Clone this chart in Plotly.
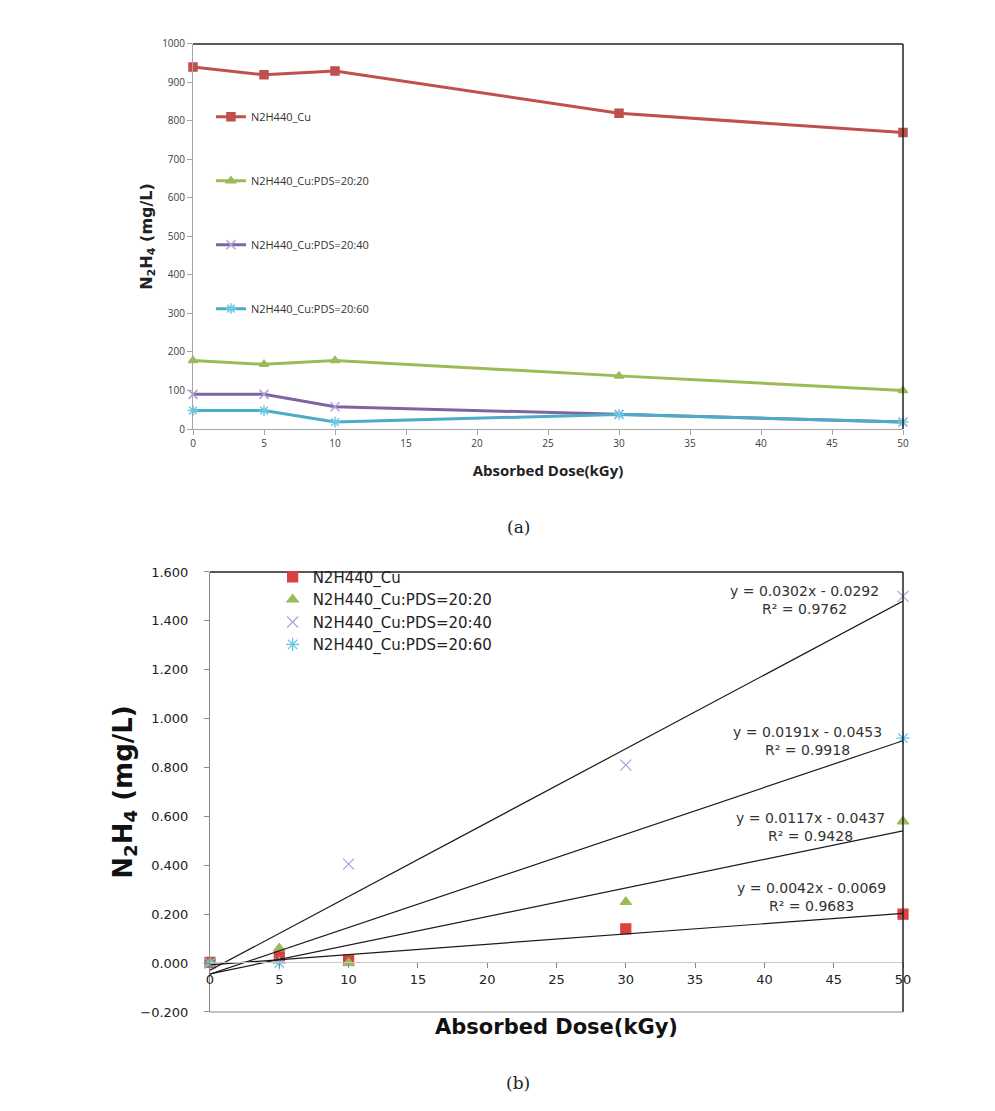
import plotly.graph_objects as go

# ---------------- data ----------------
dose = [0, 5, 10, 30, 50]
names = ["N2H440_Cu", "N2H440_Cu:PDS=20:20", "N2H440_Cu:PDS=20:40", "N2H440_Cu:PDS=20:60"]

# (a) N2H4 concentration
a_cu = [940, 920, 930, 820, 770]
a_2020 = [178, 168, 178, 138, 100]
a_2040 = [90, 90, 58, 38, 18]
a_2060 = [48, 48, 18, 38, 18]

# (b) N2H4 values (None = no point shown)
b_cu = [0.003, 0.030, 0.012, 0.140, 0.200]
b_2020 = [0.000, 0.060, 0.000, 0.250, 0.580]
b_2040 = [0.000, None, 0.405, 0.810, 1.500]
b_2060 = [0.000, 0.000, None, None, 0.920]

# linear trendlines (slope, intercept, R2)
slopes = [0.0042, 0.0117, 0.0302, 0.0191]
intercepts = [-0.0069, -0.0437, -0.0292, -0.0453]
r2 = [0.9683, 0.9428, 0.9762, 0.9918]
trend_x = [0, 50]
eq_pos_x = [43.4, 43.3, 42.9, 43.1]
eq_pos_y = [0.270, 0.557, 1.484, 0.910]

# ---------------- styles ----------------
line_cols = ["#C0504D", "#9BBB59", "#8064A2", "#4BACC6"]
mk_cols_a = ["#C0504D", "#9BBB59", "#A9A2D8", "#6CC8E6"]
mk_cols_b = ["#D9403F", "#9BBB59", "#A8A4E0", "#62C6EC"]
symbols = ["square", "triangle-up", "x-thin", "asterisk"]

fig = go.Figure()

a_series = [a_cu, a_2020, a_2040, a_2060]
for i, ys in enumerate(a_series):
    fig.add_trace(go.Scatter(
        x=dose, y=ys, name=names[i], mode="lines+markers",
        line=dict(color=line_cols[i], width=3),
        marker=dict(symbol=symbols[i], size=8 if i < 2 else 9, color=mk_cols_a[i],
                    line=dict(color=mk_cols_a[i] if i >= 2 else line_cols[i], width=1.5)),
        xaxis="x", yaxis="y", legend="legend", legendgroup="a%d" % i, cliponaxis=False))

b_series = [b_cu, b_2020, b_2040, b_2060]
for i, ys in enumerate(b_series):
    fig.add_trace(go.Scatter(
        x=dose, y=ys, name=names[i], mode="markers",
        marker=dict(symbol=symbols[i], size=10 if i < 2 else 11, color=mk_cols_b[i],
                    line=dict(color=mk_cols_b[i], width=1.2)),
        xaxis="x2", yaxis="y2", legend="legend2", cliponaxis=False))

for i in range(4):
    ty = [slopes[i] * x + intercepts[i] for x in trend_x]
    fig.add_trace(go.Scatter(
        x=trend_x, y=ty, mode="lines", showlegend=False,
        line=dict(color="#1a1a1a", width=1.2), xaxis="x2", yaxis="y2", hoverinfo="skip"))
    fig.add_annotation(
        x=eq_pos_x[i], y=eq_pos_y[i], xref="x2", yref="y2",
        xanchor="center", yanchor="middle",
        text="y = %.4fx - %.4f<br>R² = %.4f" % (slopes[i], -intercepts[i], r2[i]),
        showarrow=False, align="center",
        font=dict(family="DejaVu Sans", size=14, color="#333333"))

tick_font_a = dict(family="Open Sans", size=10, color="#404040")
tick_font_b = dict(family="DejaVu Sans", size=13, color="#222222")

fig.update_layout(
    width=995, height=1111, margin=dict(l=0, r=0, t=0, b=0, autoexpand=False),
    paper_bgcolor="white", plot_bgcolor="white",
    showlegend=True,
    xaxis=dict(domain=[0.19397, 0.90754], anchor="y", range=[0, 50], dtick=5,
               automargin=False,
               showgrid=False, zeroline=False, showline=True, linecolor="#A6A6A6",
               ticks="outside", ticklen=5, tickcolor="#A6A6A6", tickfont=tick_font_a,
               title=dict(text="<b>Absorbed Dose(kGy)</b>", standoff=16,
                          font=dict(family="Open Sans", size=15, color="#222222"))),
    yaxis=dict(domain=[0.61386, 0.96040], anchor="x", range=[0, 1000], dtick=100,
               automargin=False,
               showgrid=False, zeroline=False, showline=True, linecolor="#A6A6A6",
               ticks="outside", ticklen=5, tickcolor="#A6A6A6", tickfont=tick_font_a,
               title=dict(text="<b>N<sub>2</sub>H<sub>4</sub> (mg/L)</b>", standoff=5,
                          font=dict(family="DejaVu Sans", size=16, color="#222222"))),
    xaxis2=dict(domain=[0.21106, 0.90754], anchor="free", position=0.13411,
                automargin=False,
                range=[0, 50], dtick=5, showgrid=False, zeroline=False,
                showline=True, linecolor="#C8C8C8",
                ticks="outside", ticklen=5, tickcolor="#888888", tickfont=tick_font_b,
                title=dict(text="<b>Absorbed Dose(kGy)</b>", standoff=33,
                           font=dict(family="DejaVu Sans", size=21, color="#111111"))),
    yaxis2=dict(domain=[0.08911, 0.48515], anchor="x2", range=[-0.2, 1.6], dtick=0.2,
                automargin=False,
                tickformat=".3f", showgrid=False, zeroline=False, showline=True,
                linecolor="#888888", ticks="outside", ticklen=5, tickcolor="#888888",
                tickfont=tick_font_b, ticklabelstandoff=13,
                title=dict(text="<b>N<sub>2</sub>H<sub>4</sub> (mg/L)</b>", standoff=0,
                           font=dict(family="DejaVu Sans", size=26, color="#111111"))),
    legend=dict(x=0.212, y=0.908, xanchor="left", yanchor="top",
                bgcolor="rgba(0,0,0,0)", tracegroupgap=45,
                font=dict(family="Open Sans", size=11, color="#333333")),
    legend2=dict(x=0.274, y=0.4953, xanchor="left", yanchor="top",
                 bgcolor="rgba(0,0,0,0)", tracegroupgap=0,
                 font=dict(family="DejaVu Sans", size=15, color="#222222")),
)

# borders: top/right in black, bottom border of (b) in gray
fig.add_shape(type="line", xref="x domain", yref="y domain", x0=0, x1=1, y0=1, y1=1,
              line=dict(color="#222222", width=1.5))
fig.add_shape(type="line", xref="x domain", yref="y domain", x0=1, x1=1, y0=0, y1=1,
              line=dict(color="#222222", width=1.5))
fig.add_shape(type="line", xref="x2 domain", yref="y2 domain", x0=0, x1=1, y0=1, y1=1,
              line=dict(color="#222222", width=1.5))
fig.add_shape(type="line", xref="x2 domain", yref="y2 domain", x0=1, x1=1, y0=0, y1=1,
              line=dict(color="#222222", width=1.5))
fig.add_shape(type="line", xref="x2 domain", yref="y2 domain", x0=0, x1=1, y0=0, y1=0,
              line=dict(color="#888888", width=1))

# captions
fig.add_annotation(x=518 / 995, y=1 - 527 / 1111, xref="paper", yref="paper", text="(a)",
                   xanchor="center", yanchor="middle",
                   showarrow=False, font=dict(family="DejaVu Serif", size=17, color="#222222"))
fig.add_annotation(x=518 / 995, y=1 - 1083 / 1111, xref="paper", yref="paper", text="(b)",
                   xanchor="center", yanchor="middle",
                   showarrow=False, font=dict(family="DejaVu Serif", size=17, color="#222222"))

fig.write_html("out.html", config={"displayModeBar": False},
               post_script="document.body.style.margin='0px';")
